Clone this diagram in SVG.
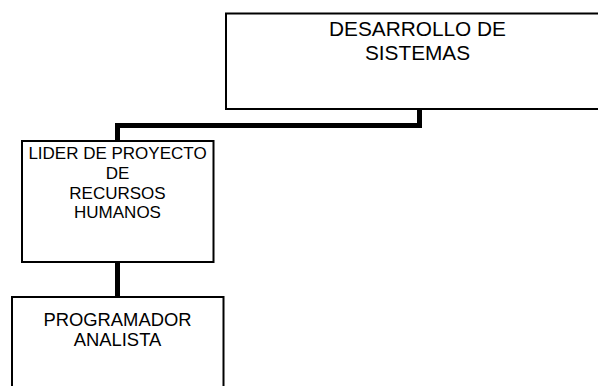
<svg xmlns="http://www.w3.org/2000/svg" width="598" height="386" viewBox="0 0 598 386">
<style>
.box{fill:#fff;stroke:#000;stroke-width:2}
.conn{fill:none;stroke:#000;stroke-width:5;stroke-linejoin:miter}
text{font-family:"Liberation Sans",Arial,sans-serif;fill:#000;text-anchor:middle}
</style>
<rect width="598" height="386" fill="#fff"/>
<g id="connectors">
<polyline class="conn" points="419.5,109 419.5,125.5 117.5,125.5 117.5,141"/>
<line class="conn" x1="117.5" y1="262" x2="117.5" y2="297"/>
</g>
<g id="desarrollo">
<rect class="box" x="226" y="13.5" width="384" height="95.5"/>
<text x="417.5" y="36" font-size="20.8">DESARROLLO DE</text>
<text x="417.5" y="60" font-size="20.8">SISTEMAS</text>
</g>
<g id="lider">
<rect class="box" x="22" y="141" width="191.5" height="121"/>
<text x="117.5" y="159.3" font-size="17">LIDER DE PROYECTO</text>
<text x="117.5" y="179" font-size="17">DE</text>
<text x="117.5" y="198.7" font-size="17">RECURSOS</text>
<text x="117.5" y="218.3" font-size="17">HUMANOS</text>
</g>
<g id="programador">
<rect class="box" x="12" y="297" width="211.5" height="100"/>
<text x="117.5" y="325.7" font-size="18.4">PROGRAMADOR</text>
<text x="117.5" y="345.7" font-size="18.4">ANALISTA</text>
</g>
</svg>
